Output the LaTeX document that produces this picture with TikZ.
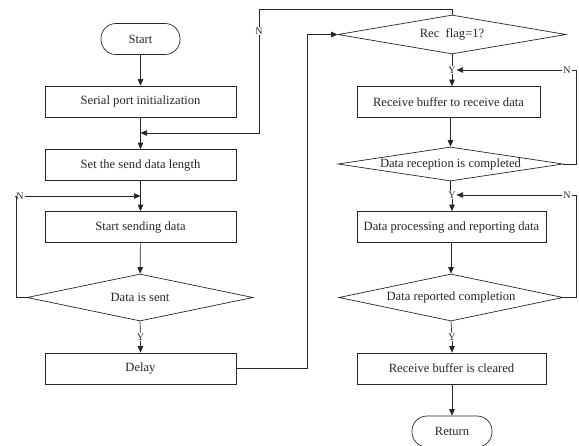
\documentclass[tikz,border=0pt]{standalone}
\usepackage{fontspec}
\setmainfont{Liberation Serif}
\usetikzlibrary{shapes.geometric,arrows.meta,calc}
\begin{document}
\begin{tikzpicture}[x=1pt,y=-1pt,
  line width=0.7pt, draw=black!85,
  every node/.style={font=\fontsize{12.6}{14}\selectfont, text=black!85},
  term/.style={draw, rounded corners=15pt, minimum width=79pt, minimum height=31pt, inner sep=0pt},
  box/.style={draw, minimum height=31pt, inner sep=0pt},
  dia/.style={draw, diamond, inner sep=0pt},
  yn/.style={font=\fontsize{10}{11}\selectfont, fill=white, inner sep=0.6pt},
  arr/.style={-{Triangle[length=6.5pt,width=5.5pt]}}
]
\useasboundingbox (0,0) rectangle (579,445);
\clip (0,0) rectangle (579,445);
% left column
\node[term] (start) at (140.5,39) {Start};
\node[box, minimum width=191pt] (init) at (140.5,101.5) {Serial port initialization};
\node[box, minimum width=191pt] (len) at (140.5,165) {Set the send data length};
\node[box, minimum width=191pt] (send) at (140.5,227) {Start sending data};
\node[dia, minimum width=226pt, minimum height=47pt, label=center:{Data is sent}] (d1) at (140,297.5) {};
\node[box, minimum width=191pt] (delay) at (140.5,368.5) {Delay};
% right column
\node[dia, minimum width=228pt, minimum height=39pt, label=center:{Rec\ \ flag=1?}] (rec) at (452,34.5) {};
\node[box, minimum width=183pt] (rbuf) at (448.5,102) {Receive buffer to receive data};
\node[dia, minimum width=225pt, minimum height=34pt, label=center:{Data reception is completed}] (drc) at (450.5,164) {};
\node[box, minimum width=189pt] (proc) at (451.5,227) {Data processing and reporting data};
\node[dia, minimum width=224pt, minimum height=47pt, label=center:{Data reported completion}] (drep) at (451,297.5) {};
\node[box, minimum width=189pt] (clr) at (451.5,368.5) {Receive buffer is cleared};
\node[term, minimum width=80pt] (ret) at (452,431.5) {Return};
% labels
\node[yn] (nTop) at (259,31) {N};
\node[yn] (nLeft) at (20,196) {N};
\node[yn] (y1) at (140.5,337) {Y};
\node[yn] (y2) at (452,70) {Y};
\node[yn] (n2) at (567,70) {N};
\node[yn] (y3) at (452,195) {Y};
\node[yn] (n3) at (567,195) {N};
\node[yn] (y4) at (452,337) {Y};
% coordinates
\coordinate (j1) at (140.5,133);
\coordinate (j2) at (140.5,196);
% connectors left
\draw[arr] (start) -- (init);
\draw[arr] (init) -- (len);
\draw (rec.north) -- ++(0,-5) -| (nTop);
\draw[arr] (nTop) |- (j1);
\draw[arr] (len) -- (send);
\draw (d1.west) -| (16,196) -- (nLeft);
\draw[arr] (nLeft) -- (j2);
\draw[arr] (send) -- (d1);
\draw (d1.south) -- (y1);
\draw[arr] (y1) -- (delay);
\draw[arr] (delay.east) -| (307,34.5) -- (rec.west);
% connectors right
\draw (rec.south) -- (y2);
\draw[arr] (y2) -- (y2 |- rbuf.north);
\draw (drc.east) -| (576,70) -- (n2);
\draw[arr] (n2) -- (y2.east);
\draw[arr] (rbuf.south -| drc.north) -- (drc.north);
\draw (drc.south) -- (drc.south |- y3.north);
\draw[arr] (y3) -- (y3 |- proc.north);
\draw (drep.east) -| (576,195) -- (n3);
\draw[arr] (n3) -- (y3.east);
\draw[arr] (proc.south -| drep.north) -- (drep.north);
\draw (drep.south) -- (y4);
\draw[arr] (y4) -- (y4 |- clr.north);
\draw[arr] (clr.south -| ret.north) -- (ret.north);
\end{tikzpicture}
\end{document}
